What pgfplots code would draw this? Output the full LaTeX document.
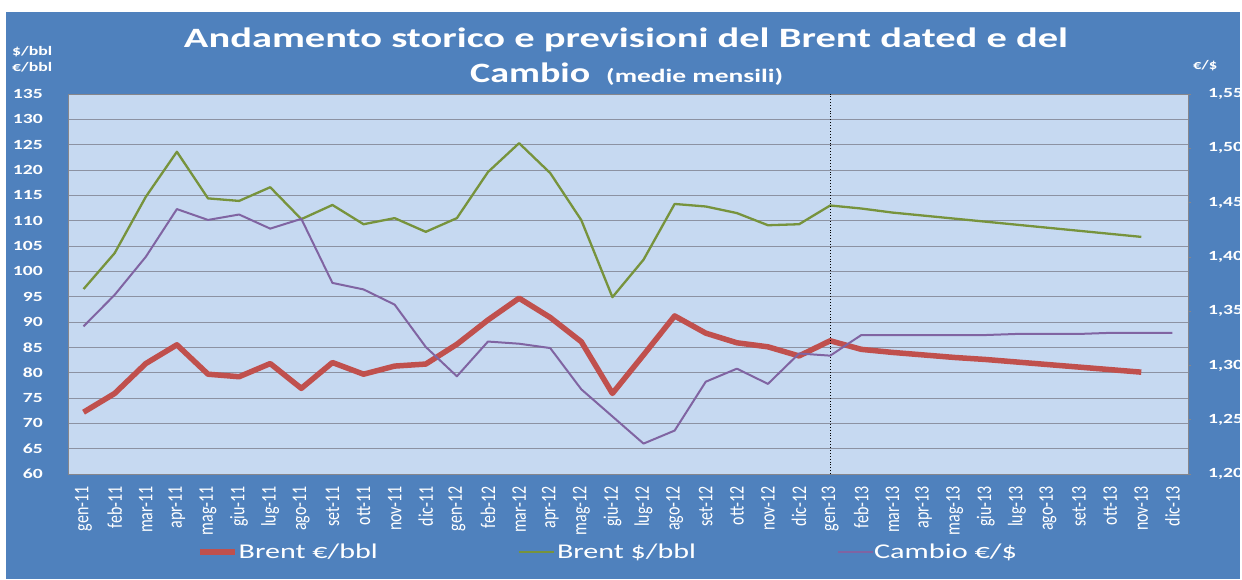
\documentclass[border=0pt]{standalone}
\usepackage{fontspec}
\setmainfont{Carlito}
\usepackage{graphicx}
\usepackage{pgfplots}
\pgfplotsset{compat=1.18}
\definecolor{outerblue}{RGB}{79,129,189}
\definecolor{plotblue}{RGB}{198,217,241}
\definecolor{gridgray}{RGB}{140,146,162}
\definecolor{bordergray}{RGB}{134,134,140}
\definecolor{cred}{RGB}{192,80,77}
\definecolor{cgreen}{RGB}{119,147,60}
\definecolor{cpurple}{RGB}{128,100,162}
\pgfplotstableread{
x eur usd
0 72.2 96.5
1 75.9 103.6
2 81.8 114.7
3 85.5 123.6
4 79.7 114.4
5 79.2 113.9
6 81.8 116.6
7 76.9 110.3
8 82.0 113.1
9 79.7 109.3
10 81.3 110.5
11 81.7 107.8
12 85.6 110.5
13 90.4 119.6
14 94.7 125.3
15 90.9 119.4
16 86.1 110.1
17 75.9 94.9
18 83.5 102.3
19 91.2 113.3
20 87.8 112.8
21 85.9 111.5
22 85.1 109.1
23 83.3 109.3
24 86.3 113.0
25 84.6 112.4
26 84.0 111.6
27 83.5 111.0
28 83.0 110.4
29 82.6 109.8
30 82.1 109.2
31 81.6 108.6
32 81.1 108.0
33 80.6 107.4
34 80.1 106.8
}\brent
\pgfplotstableread{
x fx
0 1.336
1 1.365
2 1.400
3 1.444
4 1.434
5 1.439
6 1.426
7 1.435
8 1.376
9 1.370
10 1.356
11 1.317
12 1.290
13 1.322
14 1.320
15 1.316
16 1.278
17 1.253
18 1.228
19 1.240
20 1.285
21 1.297
22 1.283
23 1.311
24 1.309
25 1.328
26 1.328
27 1.328
28 1.328
29 1.328
30 1.329
31 1.329
32 1.329
33 1.330
34 1.330
35 1.330
}\cambio
\begin{document}
\begin{tikzpicture}
\path[use as bounding box] (0,0) rectangle (1242pt,579pt);
\fill[white] (0,0) rectangle (1242pt,579pt);
\fill[outerblue] (6pt,0) rectangle (1240pt,567pt);
% titles
\node[anchor=base, text=white, inner sep=0pt] at (626pt,531pt)
  {\resizebox{884pt}{\height}{\fontsize{28}{28}\selectfont\bfseries Andamento storico e previsioni del Brent dated e del}};
\node[anchor=base west, text=white, inner sep=0pt] at (470pt,496pt)
  {\resizebox{120pt}{\height}{\fontsize{28}{28}\selectfont\bfseries Cambio}};
\node[anchor=base west, text=white, inner sep=0pt] at (606pt,496pt)
  {\resizebox{177pt}{\height}{\fontsize{19}{19}\selectfont\bfseries (medie mensili)}};
\node[anchor=base west, text=white, inner sep=0pt] at (12pt,523pt)
  {\resizebox{40pt}{\height}{\fontsize{13}{13}\selectfont\bfseries \$/bbl}};
\node[anchor=base west, text=white, inner sep=0pt] at (12pt,507pt)
  {\resizebox{40pt}{\height}{\fontsize{13}{13}\selectfont\bfseries €/bbl}};
\node[anchor=base west, text=white, inner sep=0pt] at (1193pt,509pt)
  {\resizebox{24pt}{\height}{\fontsize{13}{13}\selectfont\bfseries €/\$}};
\begin{axis}[
  scale only axis, width=1120pt, height=380pt,
  at={(68pt,105pt)}, anchor=south west,
  xmin=-0.5, xmax=35.5, ymin=60, ymax=135,
  ytick={60,65,...,135},
  xtick={0,...,35},
  xticklabels={gen-11,feb-11,mar-11,apr-11,mag-11,giu-11,lug-11,ago-11,set-11,ott-11,nov-11,dic-11,
               gen-12,feb-12,mar-12,apr-12,mag-12,giu-12,lug-12,ago-12,set-12,ott-12,nov-12,dic-12,
               gen-13,feb-13,mar-13,apr-13,mag-13,giu-13,lug-13,ago-13,set-13,ott-13,nov-13,dic-13},
  ticklabel pos=left,
  major tick length=0pt,
  ymajorgrids, grid style={draw=gridgray, line width=0.9pt},
  axis background/.style={fill=plotblue},
  axis line style={draw=bordergray, line width=0.8pt},
  /pgf/number format/assume math mode=true,
  yticklabel style={font=\fontsize{14}{14}\selectfont\bfseries, text=white, anchor=east, inner sep=0pt, xshift=-25pt, xscale=1.4},
  xticklabel style={font=\fontsize{16}{16}\selectfont, text=white, yshift=-12pt, rotate=90, yscale=1.3, anchor=east, inner sep=0pt},
  legend columns=3,
  legend cell align=left,
  legend style={at={(axis description cs:0.1152,-0.2053)}, anchor=west, draw=none, fill=none,
    inner sep=0pt, column sep=0pt, nodes={inner sep=0pt, text=white, font=\fontsize{21}{21}\selectfont}},
  legend image code/.code={\draw[#1] (0pt,0pt) -- (35pt,0pt);},
]
\addplot[cred, line width=5.5pt, line join=round] table[x=x, y=eur] {\brent};
\addlegendentry{\makebox[280pt][l]{\hspace{1pt}\resizebox{139pt}{\height}{Brent €/bbl}}}
\addplot[cgreen, line width=2.3pt, line join=round] table[x=x, y=usd] {\brent};
\addlegendentry{\makebox[282pt][l]{\hspace{2pt}\resizebox{139pt}{\height}{Brent \$/bbl}}}
\addlegendimage{cpurple, line width=2pt}
\addlegendentry{\makebox[150pt][l]{\hspace{0pt}\resizebox{143pt}{\height}{Cambio €/\$}}}
\draw[black, dotted, line width=0.9pt] (axis cs:24,60) -- (axis cs:24,135);
\end{axis}
\begin{axis}[
  scale only axis, width=1120pt, height=380pt,
  at={(68pt,105pt)}, anchor=south west,
  xmin=-0.5, xmax=35.5, ymin=1.2, ymax=1.55,
  axis x line=none, axis y line*=right,
  ytick={1.2,1.25,1.3,1.35,1.4,1.45,1.5,1.55},
  axis line style={draw=bordergray, line width=0.8pt},
  tick style={draw=bordergray, line width=0.6pt},
  tick align=outside, major tick length=3pt,
  /pgf/number format/fixed,
  /pgf/number format/fixed zerofill,
  /pgf/number format/precision=2,
  /pgf/number format/use comma,
  /pgf/number format/assume math mode=true,
  yticklabel style={font=\fontsize{14}{14}\selectfont\bfseries, text=white, anchor=west, inner sep=0pt, xshift=17pt, xscale=1.4},
]
\addplot[cpurple, line width=2pt, line join=round] table[x=x, y=fx] {\cambio};
\end{axis}
\end{tikzpicture}
\end{document}
